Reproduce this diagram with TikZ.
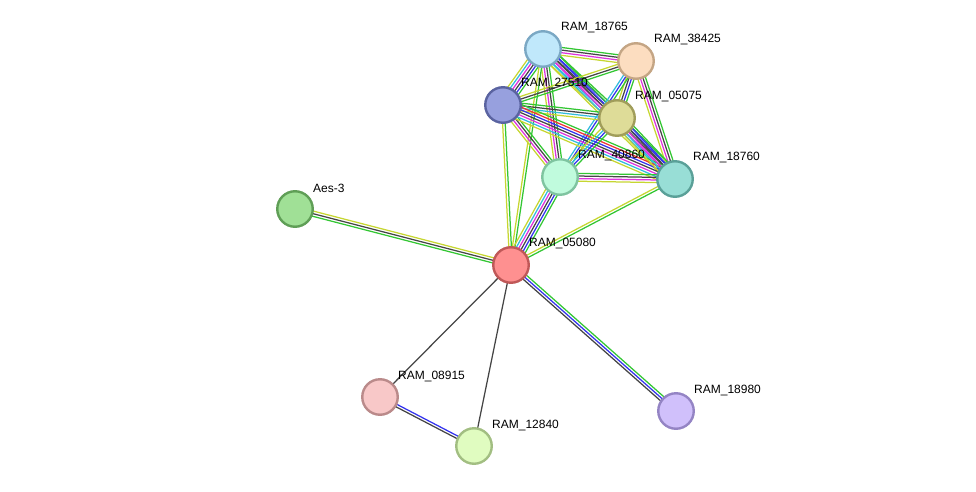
\documentclass[tikz,border=0pt]{standalone}
\usepackage{fontspec}
\setmainfont{Liberation Sans}
\usetikzlibrary{calc,backgrounds}
\definecolor{eg}{HTML}{33C633}
\definecolor{ey}{HTML}{C6D631}
\definecolor{ek}{HTML}{454545}
\definecolor{em}{HTML}{DD33DD}
\definecolor{ec}{HTML}{33BBDD}
\definecolor{eb}{HTML}{3333EE}
\definecolor{er}{HTML}{EE3333}
\newcommand\sedge[3]{%
  \foreach \c [count=\i] in {#3} {\xdef\nedges{\i}}%
  \foreach \c [count=\i] in {#3} {%
    \pgfmathsetmacro\off{((\nedges+1)/2-\i)*2.6}%
    \draw[draw=\c, line width=1.25pt] ($(#1.center)!\off pt!90:(#2.center)$) -- ($(#2.center)!\off pt!-90:(#1.center)$);
  }%
}
\tikzset{
  pn/.style={circle, minimum size=35.5pt, inner sep=0pt, line width=2.4pt},
  lb/.style={anchor=west, inner sep=0pt, font=\fontsize{12}{14}\selectfont, text=black}
}
\begin{document}
\begin{tikzpicture}[x=1pt,y=-1pt]
\useasboundingbox (0,0) rectangle (976,492);
\node[pn, fill={rgb,255:red,192;green,232;blue,251}, draw={rgb,255:red,123;green,168;blue,196}] (A) at (543,49) {};
\node[pn, fill={rgb,255:red,252;green,221;blue,192}, draw={rgb,255:red,196;green,165;blue,132}] (B) at (636,61) {};
\node[pn, fill={rgb,255:red,151;green,160;blue,222}, draw={rgb,255:red,90;green,99;blue,160}] (C) at (503,105) {};
\node[pn, fill={rgb,255:red,222;green,220;blue,152}, draw={rgb,255:red,160;green,157;blue,90}] (D) at (617,118) {};
\node[pn, fill={rgb,255:red,192;green,251;blue,221}, draw={rgb,255:red,127;green,196;blue,160}] (E) at (560,177) {};
\node[pn, fill={rgb,255:red,152;green,222;blue,214}, draw={rgb,255:red,90;green,160;blue,152}] (F) at (675,179) {};
\node[pn, fill={rgb,255:red,160;green,224;blue,150}, draw={rgb,255:red,95;green,158;blue,86}] (G) at (295,209) {};
\node[pn, fill={rgb,255:red,254;green,144;blue,144}, draw={rgb,255:red,192;green,88;blue,88}] (R) at (511,265) {};
\node[pn, fill={rgb,255:red,248;green,200;blue,200}, draw={rgb,255:red,186;green,138;blue,138}] (H) at (380,397) {};
\node[pn, fill={rgb,255:red,224;green,252;blue,192}, draw={rgb,255:red,162;green,190;blue,130}] (I) at (474,446) {};
\node[pn, fill={rgb,255:red,208;green,192;blue,251}, draw={rgb,255:red,148;green,132;blue,196}] (J) at (676,411) {};
\node[lb] (lA) at (561,28) {RAM\_18765};
\node[lb] (lB) at (654,40) {RAM\_38425};
\node[lb] (lC) at (521,84) {RAM\_27510};
\node[lb] (lD) at (635,97) {RAM\_05075};
\node[lb] (lE) at (578,156) {RAM\_40860};
\node[lb] (lF) at (693,158) {RAM\_18760};
\node[lb] (lG) at (313,188) {Aes-3};
\node[lb] (lR) at (529,244) {RAM\_05080};
\node[lb] (lH) at (398,376) {RAM\_08915};
\node[lb] (lI) at (492,425) {RAM\_12840};
\node[lb] (lJ) at (694,390) {RAM\_18980};
\begin{pgfonlayer}{background}
\sedge{A}{B}{eg,ek,em,ey}
\sedge{A}{C}{eg,eb,ek,em,ec,ey}
\sedge{A}{D}{eg,eb,ek,em,ec,ey}
\sedge{A}{E}{eg,ek,em,ey}
\sedge{A}{F}{eg,eb,ek,em,ec,ey}
\sedge{A}{R}{eg,ey}
\sedge{B}{C}{eg,ek,ey}
\sedge{B}{D}{eg,eb,ek,ey}
\sedge{B}{F}{eg,ek,em,ey}
\sedge{B}{E}{eg,eb,ec}
\sedge{C}{D}{eg,ek,ec,ey}
\sedge{C}{E}{eg,ek,em,ey}
\sedge{C}{F}{eg,er,eb,ek,em,ec,ey}
\sedge{C}{R}{eg,ey}
\sedge{D}{E}{eg,eb,ec,ey}
\sedge{D}{F}{eg,eb,ek,em,ec,ey}
\sedge{E}{F}{eg,ek,em,ey}
\sedge{E}{R}{eg,eb,ek,em,ec,ey}
\sedge{F}{R}{eg,ey}
\sedge{G}{R}{ey,ek,eg}
\sedge{R}{J}{eg,eb,ek}
\sedge{R}{H}{ek}
\sedge{R}{I}{ek}
\sedge{H}{I}{eb,ek}
\end{pgfonlayer}
\end{tikzpicture}
\end{document}
